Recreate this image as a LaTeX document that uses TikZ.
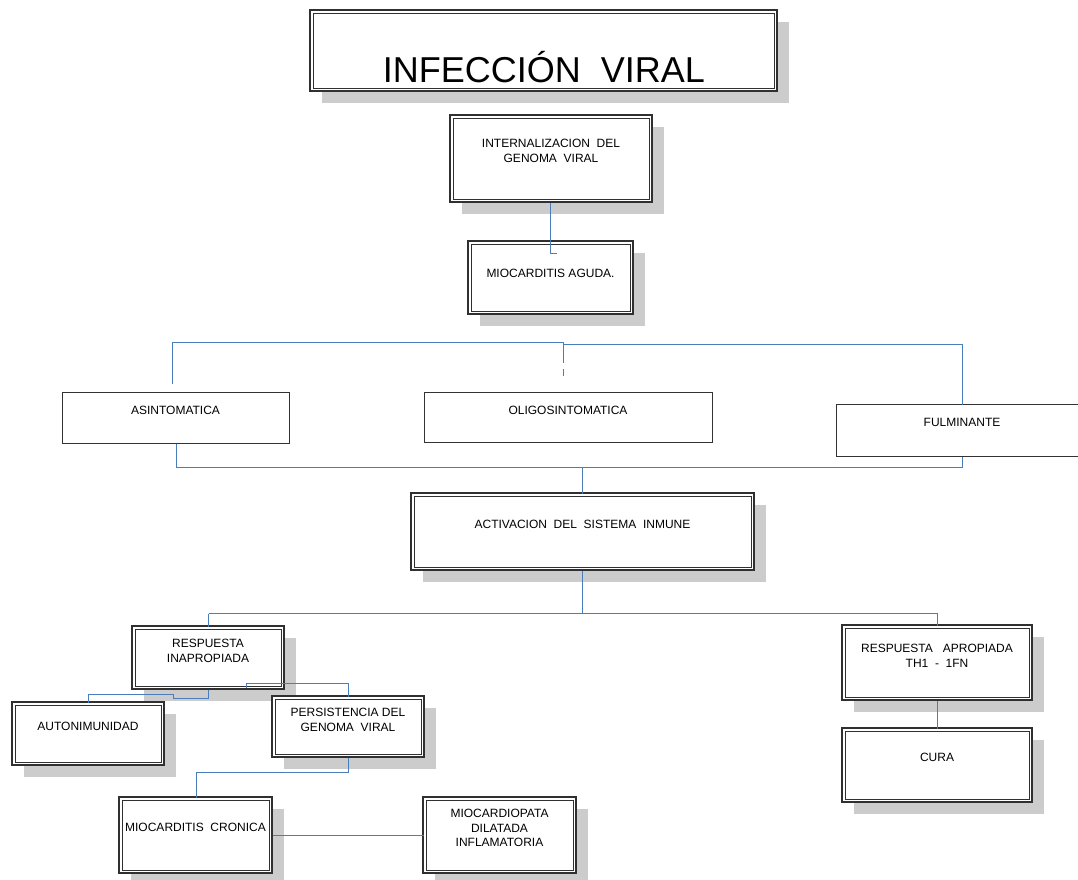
\documentclass[tikz,border=0pt]{standalone}
\usepackage{fontspec}
\setmainfont{Liberation Sans}
\usetikzlibrary{fit}
\definecolor{shadowc}{HTML}{CCCCCC}
\definecolor{framec}{HTML}{303030}
\definecolor{connc}{HTML}{4A7EBB}
\tikzset{
  dframe/.style={draw=framec, line width=1.1pt, fill=white, inner sep=0pt, outer sep=0pt},
  innerframe/.style={draw=framec, line width=0.5pt},
  sframe/.style={draw=black!80, line width=0.7pt, fill=white, inner sep=0pt, outer sep=0pt},
  conn/.style={draw=connc, line width=0.75pt, transform canvas={shift={(0.5,0.5)}}},
  lbl/.style={font=\fontsize{9}{10.9}\selectfont, inner sep=0pt, align=center},
  ttl/.style={font=\fontsize{27}{32}\selectfont, inner sep=0pt}
}
\newcommand\DBox[5]{%
  \fill[shadowc] ({#2+12},{#3+12}) rectangle ({#4+12},{#5+12});
  \node[dframe, fit={(#2,#3) (#4,#5)}] (#1) {};
  \draw[innerframe] ([shift={(3.1,-3.1)}]#1.south west) rectangle ([shift={(-3.1,3.1)}]#1.north east);
}
\newcommand\SBox[5]{%
  \node[sframe, fit={(#2,#3) (#4,#5)}] (#1) {};
}
\begin{document}
\begin{tikzpicture}[x=0.75pt, y=-0.75pt]
\path[use as bounding box, fill=white] (0,0) rectangle (1078,879);

% boxes
\DBox{title}{310}{10}{777}{91}
\DBox{intern}{450}{115}{652}{202}
\DBox{aguda}{468}{241}{633}{314}
\SBox{asint}{62}{392}{289}{443}
\SBox{oligo}{424}{392}{712}{442}
\SBox{fulm}{836}{404}{1095}{456}
\DBox{activ}{411}{493}{754}{570}
\DBox{respI}{132}{626}{284}{689}
\DBox{autoin}{12}{702}{164}{765}
\DBox{persist}{272}{696}{424}{757}
\DBox{respA}{842}{625}{1032}{700}
\DBox{cura}{842}{728}{1032}{802}
\DBox{cron}{119}{797}{272}{873}
\DBox{dil}{423}{797}{576}{873}

% texts
\node[ttl, anchor=base] (tTitle) at (544,82.7) {INFECCIÓN~~VIRAL};
\node[lbl, anchor=north] (tIntern) at (intern.north |- 0,139.3) {INTERNALIZACION~~DEL\\GENOMA~~VIRAL};
\node[lbl, anchor=base] (tAguda) at (aguda.north |- 0,277) {MIOCARDITIS AGUDA.};
\node[lbl, anchor=base] (tAsint) at (asint.north |- 0,414) {ASINTOMATICA};
\node[lbl, anchor=base] (tOligo) at (oligo.north |- 0,414) {OLIGOSINTOMATICA};
\node[lbl, anchor=base] (tFulm) at (962,426.7) {FULMINANTE};
\node[lbl, anchor=base] (tActiv) at (activ.north |- 0,528) {ACTIVACION~~DEL~~SISTEMA~~INMUNE};
\node[lbl, anchor=north] (tRespI) at (respI.north |- 0,639.3) {RESPUESTA\\INAPROPIADA};
\node[lbl, anchor=base] (tAutoin) at (autoin.north |- 0,730) {AUTONIMUNIDAD};
\node[lbl, anchor=north] (tPersist) at (persist.north |- 0,708) {PERSISTENCIA DEL\\GENOMA~~VIRAL};
\node[lbl, anchor=north] (tRespA) at (respA.north |- 0,644) {RESPUESTA~~~APROPIADA\\TH1~~-~~1FN};
\node[lbl, anchor=base] (tCura) at (cura.north |- 0,761) {CURA};
\node[lbl, anchor=base] (tCron) at (cron.north |- 0,831) {MIOCARDITIS~~CRONICA};
\node[lbl, anchor=north] (tDil) at (dil.north |- 0,809) {MIOCARDIOPATA\\DILATADA\\INFLAMATORIA};

% connectors
\coordinate (k1) at (550,253);
\draw[conn] (intern.south -| k1) -- (k1) -- ++(6,0);

\coordinate (bl) at (172,383);
\coordinate (bm) at (563,342);
\draw[conn] (bl) -- (172,342) -- (bm);
\draw[conn] (563,344) -- (962,344) -- (fulm.north -| 962,0);
\draw[conn] (bm) -- (563,362);
\draw[conn] (563,368) -- (563,375);

\draw[conn] (asint.south -| 176,0) -- (176,467) -- (962,467) -- (fulm.south -| 962,0);
\draw[conn] (582,467) -- (activ.north -| 582,0);

\draw[conn] (activ.south -| 582,0) -- (582,613);
\draw[conn] (208,613) -- (937,613);
\draw[conn] (208,613) -- (respI.north);
\draw[conn] (937,613) -- (respA.north);

\draw[conn] (respI.south) -- (208,698) -- (173,698) -- (173,694) -- (88,694) -- (autoin.north);
\coordinate (k2) at (246,687);
\draw[conn] (k2) -- (246,683) -- (348,683) -- (persist.north);

\draw[conn] (persist.south) -- (348,772) -- (196,772) -- (cron.north -| 196,0);
\draw[conn] (cron.east) -- (dil.west);
\draw[conn] (respA.south) -- (cura.north);
\end{tikzpicture}
\end{document}
